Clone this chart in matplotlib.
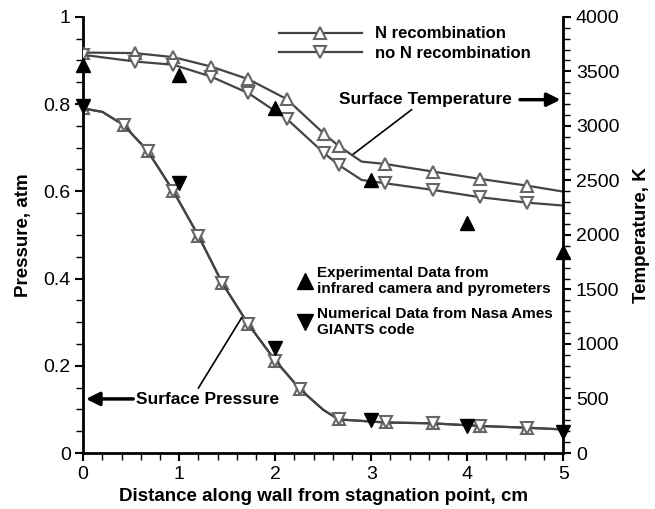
import numpy as np
import matplotlib
matplotlib.use("Agg")
import matplotlib.pyplot as plt
from matplotlib.lines import Line2D
from matplotlib.ticker import MultipleLocator, FormatStrFormatter

plt.rcParams["font.family"] = "Liberation Sans"
plt.rcParams["font.size"] = 14

# surface pressure (left axis, atm) - same for both cases
p_x = [0.0, 0.2, 0.42, 0.67, 0.94, 1.2, 1.45, 1.72, 2.0, 2.26, 2.5, 2.66, 3.15, 3.64, 4.13, 4.62, 5.0]
p_val = [0.79, 0.782, 0.752, 0.693, 0.60, 0.498, 0.389, 0.295, 0.212, 0.146, 0.099, 0.077, 0.070, 0.068, 0.062, 0.058, 0.054]
p_mark = [0, 2, 3, 4, 5, 6, 7, 8, 9, 11, 12, 13, 14, 15]

# surface temperature (right axis, K)
t_x = [0.0, 0.54, 0.94, 1.33, 1.72, 2.12, 2.51, 2.66, 2.9, 3.14, 3.64, 4.13, 4.62, 5.0]
t_rec = [3672, 3667, 3630, 3544, 3428, 3245, 2926, 2816, 2672, 2651, 2581, 2514, 2452, 2397]
t_norec = [3651, 3590, 3560, 3452, 3300, 3064, 2749, 2642, 2504, 2474, 2413, 2346, 2296, 2269]
t_mark = [0, 1, 2, 3, 4, 5, 6, 7, 9, 10, 11, 12]

# experimental temperature (infrared camera / pyrometers)
exp_x = [0, 1, 2, 3, 4, 5]
exp_t = [3560, 3468, 3162, 2505, 2113, 1847]

# GIANTS pressure
giants_x = [0, 1, 2, 3, 4, 5]
giants_p = [0.796, 0.619, 0.24, 0.076, 0.062, 0.049]

line_c = "#444444"
mk_c = "#666666"

fig = plt.figure(figsize=(6.55, 5.09), dpi=100)
ax = fig.add_axes([0.127, 0.110, 0.733, 0.857])
ax2 = ax.twinx()

mk = dict(markersize=9, markerfacecolor="white", markeredgecolor=mk_c, markeredgewidth=1.5)

ax.plot(p_x, p_val, color=line_c, lw=1.6, marker="^", markevery=p_mark, **mk)
ax.plot(p_x, p_val, color=line_c, lw=1.6, marker="v", markevery=p_mark, **mk)
ax.plot(giants_x, giants_p, "v", color="black", markersize=10, clip_on=False, zorder=5)

ax2.plot(t_x, t_rec, color=line_c, lw=1.6, marker="^", markevery=t_mark, **mk,
         label="N recombination")
ax2.plot(t_x, t_norec, color=line_c, lw=1.6, marker="v", markevery=t_mark, **mk,
         label="no N recombination")
ax2.plot(exp_x, exp_t, "^", color="black", markersize=10, clip_on=False, zorder=5)

ax.set_xlim(0, 5)
ax.set_ylim(0, 1)
ax2.set_ylim(0, 4000)

ax.xaxis.set_major_locator(MultipleLocator(1))
ax.xaxis.set_minor_locator(MultipleLocator(0.2))
ax.yaxis.set_major_locator(MultipleLocator(0.2))
ax.yaxis.set_minor_locator(MultipleLocator(0.05))
ax.yaxis.set_major_formatter(FormatStrFormatter("%g"))
ax2.yaxis.set_major_locator(MultipleLocator(500))
ax2.yaxis.set_minor_locator(MultipleLocator(100))

for a in (ax, ax2):
    a.spines["top"].set_visible(False)
    for s in ("left", "right", "bottom"):
        a.spines[s].set_linewidth(2)
    a.tick_params(which="major", length=6, width=1.5, labelsize=14, pad=3)
    a.tick_params(which="minor", length=5, width=1)
ax.spines["right"].set_visible(False)
ax2.spines["left"].set_visible(False)
ax2.spines["bottom"].set_visible(False)

ax.set_xlabel("Distance along wall from stagnation point, cm", fontweight="bold", fontsize=13.5,
              labelpad=4)
ax.set_ylabel("Pressure, atm", fontweight="bold", fontsize=13.5, labelpad=8)
ax2.set_ylabel("Temperature, K", fontweight="bold", fontsize=13.5, labelpad=10)

leg = ax2.legend(loc="upper left", bbox_to_anchor=(0.39, 0.997), frameon=False,
                 handlelength=5, prop={"weight": "bold", "size": 12},
                 borderpad=0, labelspacing=0.25)

data_handles = [
    Line2D([], [], marker="^", color="black", ls="none", markersize=11),
    Line2D([], [], marker="v", color="black", ls="none", markersize=11),
]
leg2 = ax2.legend(data_handles,
                  ["Experimental Data from\ninfrared camera and pyrometers",
                   "Numerical Data from Nasa Ames\nGIANTS code"],
                  loc="upper left", bbox_to_anchor=(0.43, 0.447), frameon=False,
                  handlelength=1, handletextpad=0.3, borderpad=0,
                  labelspacing=0.7, prop={"weight": "bold", "size": 11})
ax2.add_artist(leg)

bold = dict(fontweight="bold", fontsize=12.5)
ax.text(3.56, 0.81, "Surface Temperature", ha="center", va="center", **bold)
ax.annotate("", xy=(5.0, 0.81), xytext=(4.52, 0.81),
            arrowprops=dict(arrowstyle="-|>", lw=2.5, color="black", mutation_scale=20),
            annotation_clip=False)
ax.plot([3.42, 2.80], [0.787, 0.683], color="black", lw=1.2)

ax.text(1.30, 0.122, "Surface Pressure", ha="center", va="center", **bold)
ax.annotate("", xy=(0.0, 0.124), xytext=(0.55, 0.124),
            arrowprops=dict(arrowstyle="-|>", lw=2.5, color="black", mutation_scale=20),
            annotation_clip=False)
ax.plot([1.20, 1.65], [0.149, 0.310], color="black", lw=1.2)

fig.savefig("out.png", dpi=100)
